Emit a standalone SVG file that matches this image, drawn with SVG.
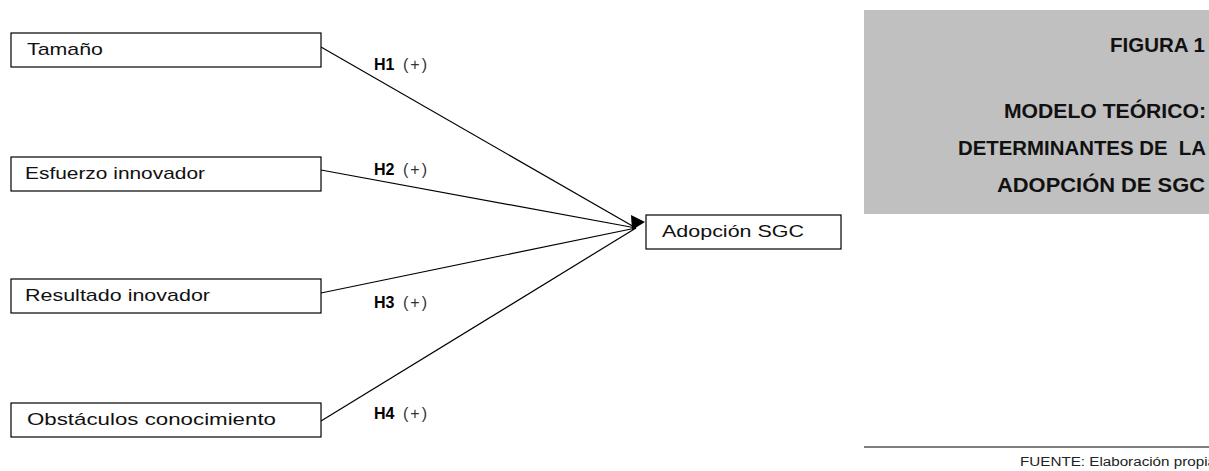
<svg xmlns="http://www.w3.org/2000/svg" width="1209" height="471" viewBox="0 0 1209 471">
<style>
.box{fill:#fff;stroke:#000;stroke-width:1.2}
.lbl{font-family:"Liberation Sans",Arial,sans-serif;font-size:17px;fill:#111}
.h{font-family:"Liberation Sans",Arial,sans-serif;font-size:16px;font-weight:bold;fill:#000}
.p{font-family:"Liberation Sans",Arial,sans-serif;font-size:16px;font-weight:normal;fill:#333}
.ttl{font-family:"Liberation Sans",Arial,sans-serif;font-size:19.5px;font-weight:bold;fill:#111;text-anchor:end}
.edge{stroke:#000;stroke-width:1.2;fill:none}
</style>
<rect width="1209" height="471" fill="#fff"/>
<g id="title">
<rect x="864" y="10" width="345" height="204" fill="#c0c0c0"/>
<text class="ttl" x="1205" y="52" textLength="95" lengthAdjust="spacingAndGlyphs">FIGURA 1</text>
<text class="ttl" x="1206" y="118" textLength="202" lengthAdjust="spacingAndGlyphs">MODELO TEÓRICO:</text>
<text class="ttl" x="1206" y="155" xml:space="preserve" textLength="248" lengthAdjust="spacingAndGlyphs">DETERMINANTES DE  LA</text>
<text class="ttl" x="1205" y="192" textLength="208" lengthAdjust="spacingAndGlyphs">ADOPCIÓN DE SGC</text>
</g>
<g id="connectors">
<line class="edge" x1="321" y1="47" x2="636" y2="228"/>
<line class="edge" x1="321" y1="170" x2="636" y2="228"/>
<line class="edge" x1="321" y1="293" x2="636" y2="228"/>
<line class="edge" x1="321" y1="421" x2="636" y2="228"/>
<polygon points="631,215 645,222 632,230" fill="#000"/>
<text class="h" x="374" y="70">H1</text><text class="p" x="403" y="70" textLength="24" lengthAdjust="spacing">(+)</text>
<text class="h" x="374" y="175">H2</text><text class="p" x="403" y="175" textLength="24" lengthAdjust="spacing">(+)</text>
<text class="h" x="374" y="308">H3</text><text class="p" x="403" y="308" textLength="24" lengthAdjust="spacing">(+)</text>
<text class="h" x="374" y="419">H4</text><text class="p" x="403" y="419" textLength="24" lengthAdjust="spacing">(+)</text>
</g>
<g id="n-tamano">
<rect class="box" x="11" y="33" width="310" height="34"/>
<text class="lbl" x="27" y="55" textLength="76" lengthAdjust="spacingAndGlyphs">Tamaño</text>
</g>
<g id="n-esfuerzo">
<rect class="box" x="11" y="157" width="310" height="34"/>
<text class="lbl" x="25" y="179" textLength="180" lengthAdjust="spacingAndGlyphs">Esfuerzo innovador</text>
</g>
<g id="n-resultado">
<rect class="box" x="11" y="279" width="310" height="34"/>
<text class="lbl" x="25" y="301" textLength="185" lengthAdjust="spacingAndGlyphs">Resultado inovador</text>
</g>
<g id="n-obstaculos">
<rect class="box" x="11" y="403" width="310" height="34"/>
<text class="lbl" x="27" y="425" textLength="249" lengthAdjust="spacingAndGlyphs">Obstáculos conocimiento</text>
</g>
<g id="n-adopcion">
<rect class="box" x="646" y="215" width="195" height="34"/>
<text class="lbl" x="662" y="237" textLength="142" lengthAdjust="spacingAndGlyphs">Adopción SGC</text>
</g>
<g id="footer">
<line x1="864" y1="447" x2="1209" y2="447" stroke="#000" stroke-width="1"/>
<text x="1020" y="466" font-family="Liberation Sans, Arial, sans-serif" font-size="12" fill="#222" textLength="196" lengthAdjust="spacingAndGlyphs">FUENTE: Elaboración propia</text>
</g>
</svg>
